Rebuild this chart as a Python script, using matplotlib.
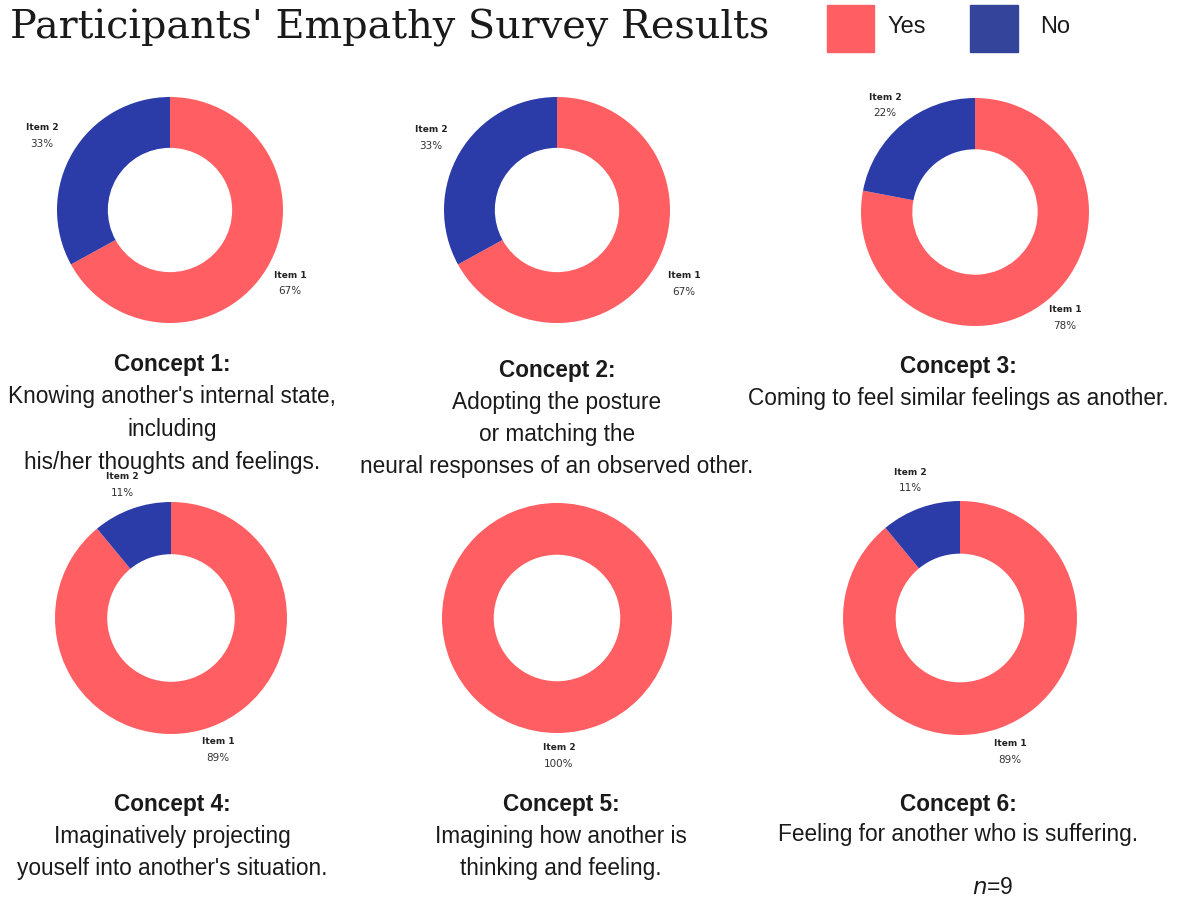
import matplotlib
matplotlib.use("Agg")
import matplotlib.pyplot as plt
from matplotlib.patches import Rectangle

W, H = 1181, 899
title = "Participants' Empathy Survey Results"
legend_labels = ["Yes", "No"]
yes_color = "#FF5E62"
no_color = "#2B3BA8"

yes_pct = [67, 67, 78, 89, 100, 89]
no_pct = [33, 33, 22, 11, 0, 11]
yes_item = ["Item 1", "Item 1", "Item 1", "Item 1", "Item 2", "Item 1"]
no_item = ["Item 2", "Item 2", "Item 2", "Item 2", "", "Item 2"]

concept_titles = ["Concept 1:", "Concept 2:", "Concept 3:",
                  "Concept 4:", "Concept 5:", "Concept 6:"]
concept_lines = [
    ["Knowing another's internal state,", "including", "his/her thoughts and feelings."],
    ["Adopting the posture", "or matching the", "neural responses of an observed other."],
    ["Coming to feel similar feelings as another."],
    ["Imaginatively projecting", "youself into another's situation."],
    ["Imagining how another is", "thinking and feeling."],
    ["Feeling for another who is suffering."],
]

# layout (pixels)
donut_geom = [(170, 210, 113), (557, 210, 113), (975, 212, 114),
              (171, 618, 116), (557, 618, 115), (960, 618, 117)]
yes_label_pos = [(290, 275), (684, 276), (1065, 310), (218, 742), (559, 748), (1010, 744)]
no_label_pos = [(42, 128), (431, 130), (885, 97), (122, 477), None, (910, 472)]
text_pos = [(172, 364, 397), (557, 370, 402), (958, 366, 398),
            (172, 804, 836), (561, 804, 836), (958, 804, 834)]
line_gap = 32.5

fig = plt.figure(figsize=(W / 100, H / 100), dpi=100)
fig.patch.set_facecolor("white")


def fx(x):
    return x / W


def fy(y):
    return 1 - y / H


for i in range(6):
    cx, cy, r = donut_geom[i]
    ax = fig.add_axes([fx(cx - r), fy(cy + r), 2 * r / W, 2 * r / H])
    vals = [yes_pct[i], no_pct[i]]
    cols = [yes_color, no_color]
    vals_c = [(v, c) for v, c in zip(vals, cols) if v > 0]
    ax.pie([v for v, _ in vals_c], colors=[c for _, c in vals_c], startangle=90,
           counterclock=False, radius=1.0,
           wedgeprops=dict(width=0.45, edgecolor="none", antialiased=True))
    ax.set_xlim(-1, 1)
    ax.set_ylim(-1, 1)
    ax.set_aspect("equal")
    ax.axis("off")

    lx, ly = yes_label_pos[i]
    fig.text(fx(lx), fy(ly), yes_item[i], ha="center", va="center",
             fontsize=6.5, fontweight="bold", color="#222222")
    fig.text(fx(lx), fy(ly + 16), f"{yes_pct[i]}%", ha="center", va="center",
             fontsize=7.5, color="#333333")
    if no_label_pos[i] is not None:
        lx, ly = no_label_pos[i]
        fig.text(fx(lx), fy(ly), no_item[i], ha="center", va="center",
                 fontsize=6.5, fontweight="bold", color="#222222")
        fig.text(fx(lx), fy(ly + 16), f"{no_pct[i]}%", ha="center", va="center",
                 fontsize=7.5, color="#333333")

    tx, ty, ly0 = text_pos[i]
    fig.text(fx(tx), fy(ty), concept_titles[i], ha="center", va="center",
             fontsize=16.3, fontweight="bold", family="Liberation Sans", color="#1a1a1a")
    for k, line in enumerate(concept_lines[i]):
        fig.text(fx(tx), fy(ly0 + k * line_gap), line, ha="center", va="center",
                 fontsize=16.3, family="Liberation Sans", color="#1a1a1a")

# n=9
fig.text(fx(993), fy(887), r"$n$=9", ha="center", va="center", fontsize=16.5,
         family="Liberation Sans", color="#1a1a1a")

# title
fig.text(fx(10), fy(28), title, ha="left", va="center", fontsize=28.6,
         family="DejaVu Serif", color="#1a1a1a")

# legend
leg_ax = fig.add_axes([0, 0, 1, 1], facecolor="none")
leg_ax.set_xlim(0, W)
leg_ax.set_ylim(H, 0)
leg_ax.axis("off")
leg_ax.add_patch(Rectangle((827, 5), 47, 47, color=yes_color))
leg_ax.add_patch(Rectangle((970, 5), 48, 47, color="#33449A"))
leg_ax.text(887, 27, legend_labels[0], ha="left", va="center", fontsize=17,
            family="Liberation Sans", color="#1a1a1a")
leg_ax.text(1040, 27, legend_labels[1], ha="left", va="center", fontsize=17,
            family="Liberation Sans", color="#1a1a1a")

fig.savefig("out.png", dpi=100, facecolor="white")
